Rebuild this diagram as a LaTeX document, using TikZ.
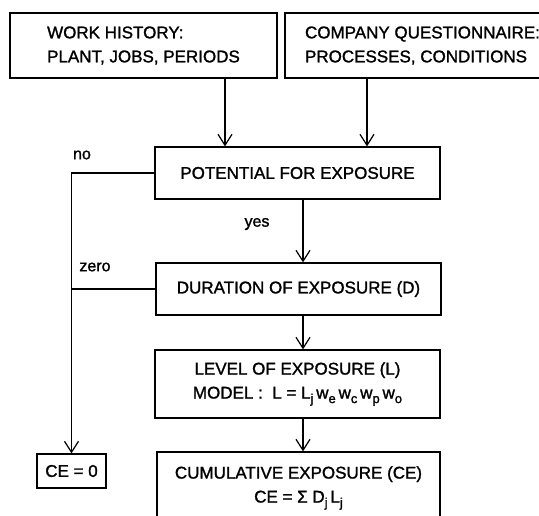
\documentclass[tikz,border=0pt]{standalone}
\usepackage{fontspec}
\setmainfont{Liberation Sans}[BoldFont=Liberation Sans,BoldFeatures={FakeBold=1.4}]
\usetikzlibrary{arrows.meta}
\newcommand{\subi}[1]{\raisebox{-0.5ex}{\fontsize{13}{13}\selectfont #1}}
\begin{document}
\begin{tikzpicture}[x=1pt,y=-1pt,
    caja/.style={draw,line width=1.2pt,inner sep=0pt,font=\fontsize{17}{24}\selectfont\bfseries},
    flecha/.style={line width=1.1pt,-{Straight Barb[length=11pt,width=14pt,line width=1.2pt]}},
    linea/.style={line width=1.1pt},
    etiqueta/.style={font=\fontsize{16}{18}\selectfont\bfseries}]
        % Marco de la figura
        \clip (0,0) rectangle (539,515);

        % Cajas de entrada
        \node[caja,minimum width=267pt,minimum height=65pt,align=left] (hist) at (143.5,45.5)
            {WORK HISTORY:\\PLANT, JOBS, PERIODS};
        \node[caja,minimum width=275pt,minimum height=65pt,align=left] (quest) at (422.5,45.5)
            {COMPANY QUESTIONNAIRE:\\PROCESSES, CONDITIONS};

        % Columna central
        \node[caja,minimum width=285pt,minimum height=52pt] (pot) at (297.5,173)
            {POTENTIAL FOR EXPOSURE};
        \node[caja,minimum width=285pt,minimum height=52pt] (dur) at (298.5,289)
            {DURATION OF EXPOSURE (D)};
        \node[caja,minimum width=285pt,minimum height=68pt,align=center] (lev) at (297.5,384)
            {LEVEL OF EXPOSURE (L)\\MODEL :\ \ L = L\subi{j}\,w\subi{e}\,w\subi{c}\,w\subi{p}\,w\subi{o}};
        \node[caja,minimum width=283pt,minimum height=72pt,align=center] (cum) at (298.5,488)
            {CUMULATIVE EXPOSURE (CE)\\CE = Σ D\subi{j}\,L\subi{j}};

        % Caja de la izquierda
        \node[caja,minimum width=69pt,minimum height=34pt] (ce0) at (71.5,471) {CE = 0};

        % Flechas
        \coordinate (c1) at (225,0);
        \coordinate (c2) at (367,0);
        \coordinate (c3) at (303,0);
        \draw[flecha] (hist.south -| c1) -- (pot.north -| c1);
        \draw[flecha] (quest.south -| c2) -- (pot.north -| c2);
        \draw[flecha] (pot.south -| c3) -- (dur.north -| c3);
        \draw[flecha] (dur.south -| c3) -- (lev.north -| c3);
        \draw[flecha] (lev.south -| c3) -- (cum.north -| c3);
        \draw[flecha] (pot.west) -| (ce0.north);
        \draw[linea] (dur.west) -- (dur.west -| ce0.north);

        % Etiquetas
        \node[etiqueta] (no) at (82,155) {no};
        \node[etiqueta] (yes) at (257,224) {yes};
        \node[etiqueta] (zero) at (95,267) {zero};
\end{tikzpicture}
\end{document}
